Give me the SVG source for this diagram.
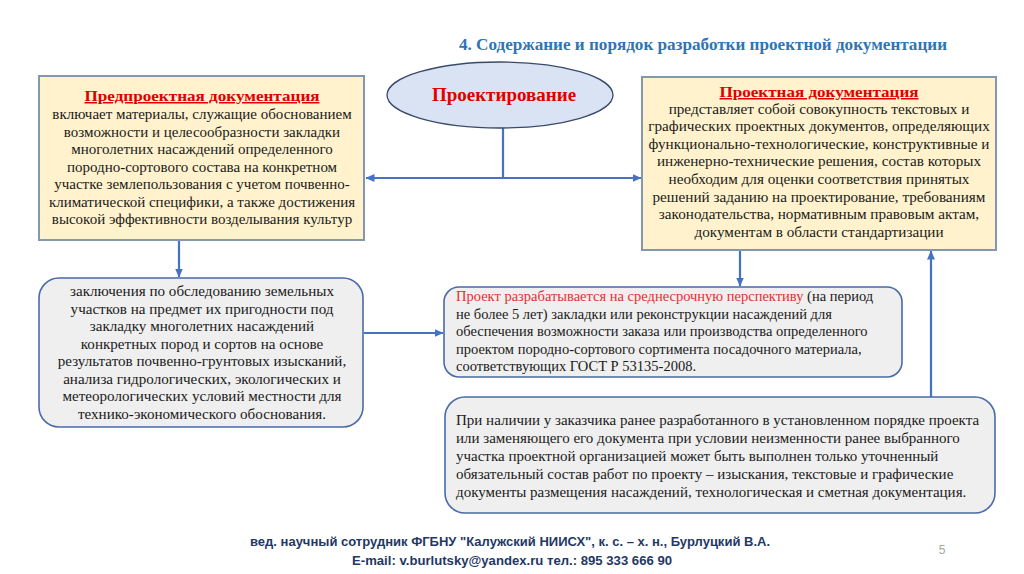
<svg xmlns="http://www.w3.org/2000/svg" width="1024" height="574" viewBox="0 0 1024 574">
<defs>
<marker id="ah" markerWidth="9" markerHeight="8" refX="8.5" refY="4" orient="auto" markerUnits="userSpaceOnUse">
<path d="M0,0 L9,4 L0,8 Z" fill="#4472c4"/>
</marker>
<style>
.t{font-family:"Liberation Serif","Times New Roman",serif;font-size:14.5px;fill:#1a1a1a}
.c{text-anchor:middle}
.h{font-family:"Liberation Serif","Times New Roman",serif;font-weight:bold;fill:#e00000;text-decoration:underline;font-size:15px;text-anchor:middle}
.doc{fill:#fff2cc;stroke:#8497b0;stroke-width:2}
.rb{fill:#efefef;stroke:#4a6aa8;stroke-width:1.6}
.ln{stroke:#4472c4;stroke-width:2.2;fill:none}
.ft{font-family:"Liberation Sans",Arial,sans-serif;font-weight:bold;font-size:13px;fill:#1f3864;text-anchor:middle}
</style>
</defs>
<rect width="1024" height="574" fill="#ffffff"/>
<g id="title">
<text x="703" y="50" text-anchor="middle" font-family="Liberation Serif, Times New Roman, serif" font-weight="bold" font-size="16.5" fill="#2e75b6" textLength="488" lengthAdjust="spacingAndGlyphs">4. Содержание и порядок разработки проектной документации</text>
</g>
<g id="connectors">
<path class="ln" d="M503,127 V178"/>
<path class="ln" d="M503,178 H366" marker-end="url(#ah)"/>
<path class="ln" d="M503,178 H641" marker-end="url(#ah)"/>
<path class="ln" d="M179,241 V277" marker-end="url(#ah)"/>
<path class="ln" d="M364,333 H443" marker-end="url(#ah)"/>
<path class="ln" d="M740,251 V286" marker-end="url(#ah)"/>
<path class="ln" d="M931,397 V251" marker-end="url(#ah)"/>
</g>
<g id="proektirovanie">
<ellipse cx="500" cy="95" rx="113" ry="33" fill="#dae3f3" stroke="#3a4a6b" stroke-width="1.3"/>
<text x="504" y="101" text-anchor="middle" font-family="Liberation Serif, Times New Roman, serif" font-weight="bold" font-size="19" fill="#e00000">Проектирование</text>
</g>
<g id="predproekt">
<rect class="doc" x="39" y="76" width="325" height="164"/>
<text class="h" x="202" y="101" textLength="235" lengthAdjust="spacingAndGlyphs">Предпроектная документация</text>
<text class="t c" x="202" style="font-size:15px"><tspan x="202" y="119.3">включает материалы, служащие обоснованием</tspan><tspan x="202" y="136.8">возможности и целесообразности закладки</tspan><tspan x="202" y="154.3">многолетних насаждений определенного</tspan><tspan x="202" y="171.8">породно-сортового состава на конкретном</tspan><tspan x="202" y="189.3">участке землепользования с учетом почвенно-</tspan><tspan x="202" y="206.8">климатической специфики, а также достижения</tspan><tspan x="202" y="224.3">высокой эффективности возделывания культур</tspan></text>
</g>
<g id="proekt-doc">
<rect class="doc" x="642" y="77" width="354" height="173"/>
<text class="h" x="819" y="97" textLength="199" lengthAdjust="spacingAndGlyphs">Проектная документация</text>
<text class="t c" x="819" style="font-size:15.2px"><tspan x="819" y="113.5">представляет собой совокупность текстовых и</tspan><tspan x="819" y="131.1">графических проектных документов, определяющих</tspan><tspan x="819" y="148.7">функционально-технологические, конструктивные и</tspan><tspan x="819" y="166.3">инженерно-технические решения, состав которых</tspan><tspan x="819" y="183.9">необходим для оценки соответствия принятых</tspan><tspan x="819" y="201.5">решений заданию на проектирование, требованиям</tspan><tspan x="819" y="219.1">законодательства, нормативным правовым актам,</tspan><tspan x="819" y="236.7">документам в области стандартизации</tspan></text>
</g>
<g id="zaklyuchenia">
<rect class="rb" x="39" y="278" width="324" height="149" rx="20"/>
<text class="t c" x="202" style="font-size:15.1px"><tspan x="202" y="296">заключения по обследованию земельных</tspan><tspan x="202" y="313.5">участков на предмет их пригодности под</tspan><tspan x="202" y="331">закладку многолетних насаждений</tspan><tspan x="202" y="348.5">конкретных пород и сортов на основе</tspan><tspan x="202" y="366">результатов почвенно-грунтовых изысканий,</tspan><tspan x="202" y="383.5">анализа гидрологических, экологических и</tspan><tspan x="202" y="401">метеорологических условий местности для</tspan><tspan x="202" y="418.5">технико-экономического обоснования.</tspan></text>
</g>
<g id="srok">
<rect class="rb" x="444" y="287" width="458" height="90" rx="15"/>
<text class="t" x="456"><tspan x="456" y="301"><tspan fill="#e53030">Проект разрабатывается на среднесрочную перспективу</tspan> (на период</tspan><tspan x="456" y="318.5">не более 5 лет) закладки или реконструкции насаждений для</tspan><tspan x="456" y="336">обеспечения возможности заказа или производства определенного</tspan><tspan x="456" y="353.5">проектом породно-сортового сортимента посадочного материала,</tspan><tspan x="456" y="371">соответствующих ГОСТ Р 53135-2008.</tspan></text>
</g>
<g id="nalichie">
<rect class="rb" x="445" y="397" width="550" height="116" rx="20"/>
<text class="t" x="456" style="font-size:15px"><tspan x="456" y="425">При наличии у заказчика ранее разработанного в установленном порядке проекта</tspan><tspan x="456" y="443">или заменяющего его документа при условии неизменности ранее выбранного</tspan><tspan x="456" y="461">участка проектной организацией может быть выполнен только уточненный</tspan><tspan x="456" y="479">обязательный состав работ по проекту – изыскания, текстовые и графические</tspan><tspan x="456" y="497">документы размещения насаждений, технологическая и сметная документация.</tspan></text>
</g>
<g id="footer">
<text class="ft" x="510" y="546" textLength="520" lengthAdjust="spacingAndGlyphs">вед. научный сотрудник ФГБНУ "Калужский НИИСХ", к. с. – х. н., Бурлуцкий В.А.</text>
<text class="ft" x="512" y="565" textLength="320" lengthAdjust="spacingAndGlyphs">E-mail: v.burlutsky@yandex.ru тел.: 895 333 666 90</text>
<text x="942" y="554" text-anchor="middle" font-family="Liberation Sans, Arial, sans-serif" font-size="12" fill="#a6a6a6">5</text>
</g>
</svg>
